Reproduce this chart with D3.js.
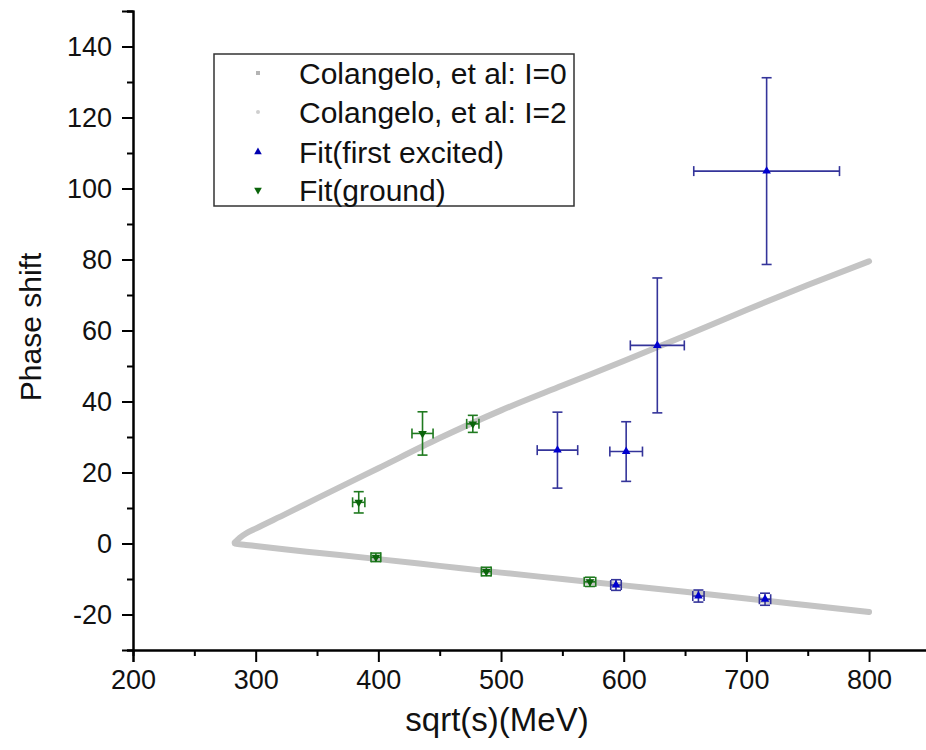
<!DOCTYPE html>
<html>
<head>
<meta charset="utf-8">
<script src="https://cdn.jsdelivr.net/npm/d3@7"></script>
<style>
  html, body { margin: 0; padding: 0; background: #ffffff; }
  svg { display: block; font-family: "Liberation Sans", Arial, sans-serif; }
</style>
</head>
<body>
<svg id="chart" width="926" height="750"></svg>
<script>
// ---- data ----
const curveEnergy = [283, 287, 292, 300, 325, 350, 400, 450, 500, 550, 600, 650, 700, 750, 800];
const colangeloI0 = [0.3, 1.6, 2.8, 4.2, 8.4, 12.7, 21.2, 29.7, 37.5, 44.5, 51.4, 58.5, 65.8, 72.8, 79.5];
const colangeloI2 = [0.0, -0.2, -0.4, -0.7, -1.7, -2.6, -4.4, -6.3, -8.2, -10.0, -11.8, -13.6, -15.5, -17.4, -19.3];

const groundX    = [384, 436, 477, 398, 488, 572.5];
const groundY    = [11.6, 31.0, 33.7, -3.9, -7.9, -10.8];
const groundXErr = [5, 8.6, 5, 4, 4, 4.7];
const groundYErr = [3, 6.1, 2.4, 1.2, 1.2, 1.3];

const excitedX    = [546, 602, 627.4, 716.5, 593.7, 660.9, 715.2];
const excitedY    = [26.3, 25.9, 55.8, 104.9, -11.7, -14.8, -15.7];
const excitedXErr = [16.5, 13.3, 22, 59.4, 4.3, 4.6, 4.6];
const excitedYErr = [10.7, 8.4, 19, 26.3, 1.5, 1.7, 1.7];

const xTicks = [200, 300, 400, 500, 600, 700, 800];
const yTicks = [-20, 0, 20, 40, 60, 80, 100, 120, 140];
const legendLabels = ["Colangelo, et al: I=0", "Colangelo, et al: I=2", "Fit(first excited)", "Fit(ground)"];

// ---- layout ----
const svg = d3.select("#chart");
const x = d3.scaleLinear().domain([200, 850]).range([133, 930.4]);
const y = d3.scaleLinear().domain([-30, 150]).range([650, 11]);

// curves
const line = d3.line().x(d => x(d[0])).y(d => y(d[1])).curve(d3.curveMonotoneX);
const i0 = curveEnergy.map((e, i) => [e, colangeloI0[i]]);
const i2 = curveEnergy.map((e, i) => [e, colangeloI2[i]]);
[i0, i2].forEach(data => {
  svg.append("path").attr("d", line(data))
    .attr("fill", "none").attr("stroke", "#c4c4c4")
    .attr("stroke-width", 6).attr("stroke-linecap", "round").attr("stroke-linejoin", "round");
});

// error bars + markers
function drawSeries(xs, ys, xe, ye, barColor, markColor, symType, rot) {
  const g = svg.append("g");
  const cap = 5;
  xs.forEach((xv, i) => {
    const cx = x(xv), cy = y(ys[i]);
    const x0 = x(xv - xe[i]), x1 = x(xv + xe[i]);
    const y0 = y(ys[i] - ye[i]), y1 = y(ys[i] + ye[i]);
    const s = g.append("g").attr("stroke", barColor).attr("stroke-width", 1.6).attr("fill", "none");
    s.append("line").attr("x1", cx).attr("x2", cx).attr("y1", y0).attr("y2", y1);
    s.append("line").attr("x1", cx - cap).attr("x2", cx + cap).attr("y1", y0).attr("y2", y0);
    s.append("line").attr("x1", cx - cap).attr("x2", cx + cap).attr("y1", y1).attr("y2", y1);
    s.append("line").attr("x1", x0).attr("x2", x1).attr("y1", cy).attr("y2", cy);
    s.append("line").attr("x1", x0).attr("x2", x0).attr("y1", cy - cap).attr("y2", cy + cap);
    s.append("line").attr("x1", x1).attr("x2", x1).attr("y1", cy - cap).attr("y2", cy + cap);
    g.append("path").attr("d", d3.symbol().type(symType).size(32)())
      .attr("transform", `translate(${cx},${cy}) rotate(${rot})`)
      .attr("fill", markColor);
  });
}
drawSeries(groundX, groundY, groundXErr, groundYErr, "#1f7a1f", "#0a640a", d3.symbolTriangle, 180);
drawSeries(excitedX, excitedY, excitedXErr, excitedYErr, "#34349a", "#0000d0", d3.symbolTriangle, 0);

// axes
const fmt = d => String(d);
const xAxis = d3.axisBottom(x).tickValues(xTicks).tickSize(12).tickPadding(8).tickFormat(fmt);
const xMinor = d3.axisBottom(x).tickValues([250, 350, 450, 550, 650, 750, 850]).tickSize(6).tickFormat("");
const yAxis = d3.axisLeft(y).tickValues(yTicks).tickSize(11).tickPadding(10).tickFormat(fmt);
const yMinor = d3.axisLeft(y).tickValues([-30, -10, 10, 30, 50, 70, 90, 110, 130, 150]).tickSize(6).tickFormat("");

function styleAxis(g) {
  g.select(".domain").attr("stroke", "#000").attr("stroke-width", 2);
  g.selectAll(".tick line").attr("stroke", "#000").attr("stroke-width", 2);
  g.selectAll(".tick text").attr("fill", "#111").attr("font-size", 27)
    .attr("font-family", "'Liberation Sans', Arial, sans-serif");
}
svg.append("g").attr("transform", "translate(0,650)").call(xMinor).call(styleAxis);
svg.append("g").attr("transform", "translate(0,650)").call(xAxis).call(styleAxis);
svg.append("g").attr("transform", "translate(133,0)").call(yMinor).call(styleAxis);
svg.append("g").attr("transform", "translate(133,0)").call(yAxis).call(styleAxis);

// axis titles
svg.append("text").attr("x", 497).attr("y", 731).attr("text-anchor", "middle")
  .attr("font-size", 33).attr("fill", "#111").text("sqrt(s)(MeV)");
svg.append("text").attr("transform", "translate(41,327) rotate(-90)").attr("text-anchor", "middle")
  .attr("font-size", 30).attr("fill", "#111").text("Phase shift");

// legend
const lg = svg.append("g");
lg.append("rect").attr("x", 214).attr("y", 54).attr("width", 360).attr("height", 152)
  .attr("fill", "#fff").attr("stroke", "#333").attr("stroke-width", 1.5);
const rows = [73, 112, 152, 190];
legendLabels.forEach((t, i) => {
  lg.append("text").attr("x", 299).attr("y", rows[i]).attr("dy", "0.35em")
    .attr("font-size", 30).attr("fill", "#111").text(t);
});
lg.append("rect").attr("x", 256).attr("y", rows[0] - 2).attr("width", 4).attr("height", 4).attr("fill", "#b4b4b4");
lg.append("circle").attr("cx", 258).attr("cy", rows[1]).attr("r", 2).attr("fill", "#cfcfcf");
lg.append("path").attr("d", d3.symbol().type(d3.symbolTriangle).size(25)())
  .attr("transform", `translate(258,${rows[2]})`).attr("fill", "#0000b0");
lg.append("path").attr("d", d3.symbol().type(d3.symbolTriangle).size(25)())
  .attr("transform", `translate(258,${rows[3]}) rotate(180)`).attr("fill", "#0a640a");
</script>
</body>
</html>
